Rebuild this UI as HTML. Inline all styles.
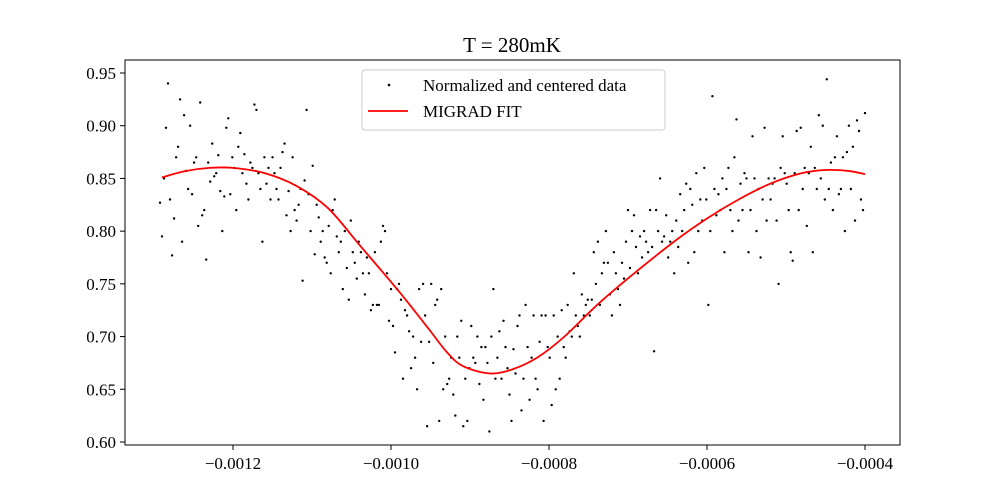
<!DOCTYPE html>
<html><head><meta charset="utf-8"><style>
html,body{margin:0;padding:0;background:#fff;}
svg{display:block;font-family:"Liberation Serif",serif;}
</style></head><body>
<svg id="chart" width="1000" height="500" viewBox="0 0 1000 500" xmlns="http://www.w3.org/2000/svg">
<text x="512" y="52" font-size="21" text-anchor="middle">T = 280mK</text>
<g id="marks"></g>
<rect x="125" y="60" width="775" height="385" fill="none" stroke="#000" stroke-width="1"/>
<g id="ticks"></g>
<g>
<rect x="362" y="70" width="303" height="60" rx="3" fill="#fff" fill-opacity="0.8" stroke="#ccc"/>
<circle cx="389" cy="85" r="1.3" fill="#000"/>
<text x="423" y="91" font-size="17">Normalized and centered data</text>
<line x1="368" y1="111" x2="408" y2="111" stroke="red" stroke-width="1.8"/>
<text x="423" y="117" font-size="17">MIGRAD FIT</text>
</g>
</svg>
<script>
const xStart = -0.0012924, xEnd = -0.0004;
const dataY = [0.827,0.795,0.85,0.898,0.94,0.83,0.777,0.812,0.87,0.88,0.925,0.79,0.91,0.857,0.84,0.90,0.835,0.865,0.87,0.805,0.922,0.815,0.82,0.773,0.865,0.847,0.883,0.852,0.855,0.872,0.838,0.80,0.833,0.898,0.907,0.835,0.87,0.86,0.82,0.88,0.893,0.855,0.873,0.845,0.83,0.865,0.86,0.92,0.915,0.855,0.84,0.79,0.87,0.845,0.86,0.83,0.87,0.855,0.84,0.83,0.86,0.875,0.883,0.815,0.838,0.80,0.87,0.82,0.81,0.825,0.84,0.753,0.848,0.915,0.835,0.80,0.862,0.778,0.825,0.813,0.79,0.80,0.775,0.77,0.805,0.76,0.82,0.83,0.795,0.78,0.79,0.745,0.8,0.765,0.735,0.81,0.78,0.77,0.755,0.79,0.78,0.76,0.74,0.775,0.76,0.725,0.73,0.78,0.73,0.73,0.79,0.805,0.80,0.76,
0.715,0.745,0.71,0.685,0.745,0.75,0.735,0.66,0.725,0.72,0.705,0.67,0.7,0.68,0.65,0.745,0.695,0.75,0.72,0.615,0.695,0.75,0.675,0.73,0.735,0.62,0.745,0.65,0.7,0.655,0.66,0.68,0.645,0.625,0.7,0.68,0.715,0.615,0.66,0.62,0.67,0.71,0.68,0.675,0.70,0.655,0.69,0.64,0.69,0.675,0.61,0.7,0.745,0.66,0.68,0.705,0.66,0.715,0.69,0.67,0.645,0.62,0.688,0.665,0.71,0.72,0.63,0.66,0.73,0.69,0.64,0.68,0.72,0.66,0.65,0.695,0.72,0.62,0.72,0.69,0.68,0.635,0.72,0.65,0.70,
0.66,0.725,0.69,0.68,0.73,0.705,0.70,0.76,0.72,0.71,0.70,0.74,0.72,0.73,0.735,0.72,0.735,0.78,0.75,0.79,0.73,0.76,0.77,0.80,0.77,0.74,0.72,0.78,0.76,0.745,0.73,0.77,0.755,0.79,0.82,0.765,0.80,0.815,0.785,0.76,0.795,0.775,0.80,0.79,0.78,0.82,0.785,0.686,0.82,0.80,0.85,0.79,0.795,0.815,0.775,0.79,0.80,0.76,0.81,0.785,0.835,0.80,0.82,0.845,0.77,0.84,0.825,0.78,0.855,0.8,
0.83,0.81,0.86,0.83,0.73,0.80,0.928,0.84,0.815,0.835,0.82,0.85,0.78,0.84,0.86,0.82,0.80,0.87,0.906,0.81,0.845,0.82,0.855,0.85,0.78,0.82,0.89,0.85,0.80,0.84,0.775,0.83,0.898,0.81,0.85,0.83,0.845,0.85,0.81,0.75,0.86,0.89,0.855,0.845,0.82,0.78,0.772,0.855,0.895,0.82,0.898,0.84,0.86,0.805,0.855,0.88,0.78,0.86,0.84,0.91,0.85,0.90,0.83,0.944,0.84,0.865,0.82,0.87,0.89,0.835,0.84,0.87,0.80,0.875,0.90,0.84,0.88,0.81,0.905,0.895,0.83,0.82,0.912];
const fitX = [-0.00129,-0.00126,-0.00123,-0.0012,-0.00116,-0.00112,-0.00108,-0.00104,-0.000989,-0.000951,-0.000929,-0.000909,-0.000875,-0.000846,-0.000815,-0.000782,-0.000739,-0.000697,-0.00064,-0.0006,-0.00056,-0.00052,-0.00048,-0.00045,-0.00042,-0.0004];
const fitY = [0.851,0.857,0.860,0.860,0.855,0.843,0.822,0.787,0.742,0.706,0.685,0.672,0.665,0.669,0.680,0.699,0.730,0.757,0.791,0.812,0.830,0.845,0.855,0.858,0.857,0.854];
const xTicks = [-0.0012,-0.0010,-0.0008,-0.0006,-0.0004];
const xTickLabels = ["\u22120.0012","\u22120.0010","\u22120.0008","\u22120.0006","\u22120.0004"];
const yTicks = [0.60,0.65,0.70,0.75,0.80,0.85,0.90,0.95];
const yTickLabels = ["0.60","0.65","0.70","0.75","0.80","0.85","0.90","0.95"];

const NS="http://www.w3.org/2000/svg";
function xs(v){return 233+(v+0.0012)/0.0002*158;}
function ys(v){return 442-(v-0.60)/0.35*369;}
const marks=document.getElementById('marks');
const ticks=document.getElementById('ticks');
const n=dataY.length;
dataY.forEach((y,i)=>{
  const x=xStart+(xEnd-xStart)*i/(n-1);
  const c=document.createElementNS(NS,'circle');
  
  
  c.setAttribute('cx',xs(x).toFixed(1));c.setAttribute('cy',ys(y).toFixed(1));
  c.setAttribute('r','1.2');c.setAttribute('fill','#000');
  marks.appendChild(c);
});
const pts=fitX.map((x,i)=>[xs(x),ys(fitY[i])]);
let d='M'+pts[0][0]+','+pts[0][1];
for(let i=0;i<pts.length-1;i++){
  const p0=pts[Math.max(0,i-1)],p1=pts[i],p2=pts[i+1],p3=pts[Math.min(pts.length-1,i+2)];
  d+=' C'+(p1[0]+(p2[0]-p0[0])/6)+','+(p1[1]+(p2[1]-p0[1])/6)+' '+(p2[0]-(p3[0]-p1[0])/6)+','+(p2[1]-(p3[1]-p1[1])/6)+' '+p2[0]+','+p2[1];
}
const path=document.createElementNS(NS,'path');


path.setAttribute('d',d);path.setAttribute('fill','none');path.setAttribute('stroke','red');path.setAttribute('stroke-width','1.8');
marks.appendChild(path);
xTicks.forEach((v,i)=>{
  const X=xs(v);
  const l=document.createElementNS(NS,'line');
  
  
  l.setAttribute('x1',X);l.setAttribute('x2',X);l.setAttribute('y1',445);l.setAttribute('y2',450);l.setAttribute('stroke','#000');
  ticks.appendChild(l);
  const t=document.createElementNS(NS,'text');
  
  
  t.setAttribute('x',X);t.setAttribute('y',469);t.setAttribute('font-size','17');t.setAttribute('text-anchor','middle');
  t.textContent=xTickLabels[i];ticks.appendChild(t);
});
yTicks.forEach((v,i)=>{
  const Y=ys(v);
  const l=document.createElementNS(NS,'line');
  
  
  l.setAttribute('x1',120);l.setAttribute('x2',125);l.setAttribute('y1',Y);l.setAttribute('y2',Y);l.setAttribute('stroke','#000');
  ticks.appendChild(l);
  const t=document.createElementNS(NS,'text');
  
  
  t.setAttribute('x',116);t.setAttribute('y',Y+6);t.setAttribute('font-size','17');t.setAttribute('text-anchor','end');
  t.textContent=yTickLabels[i];ticks.appendChild(t);
});
</script>
</body></html>
